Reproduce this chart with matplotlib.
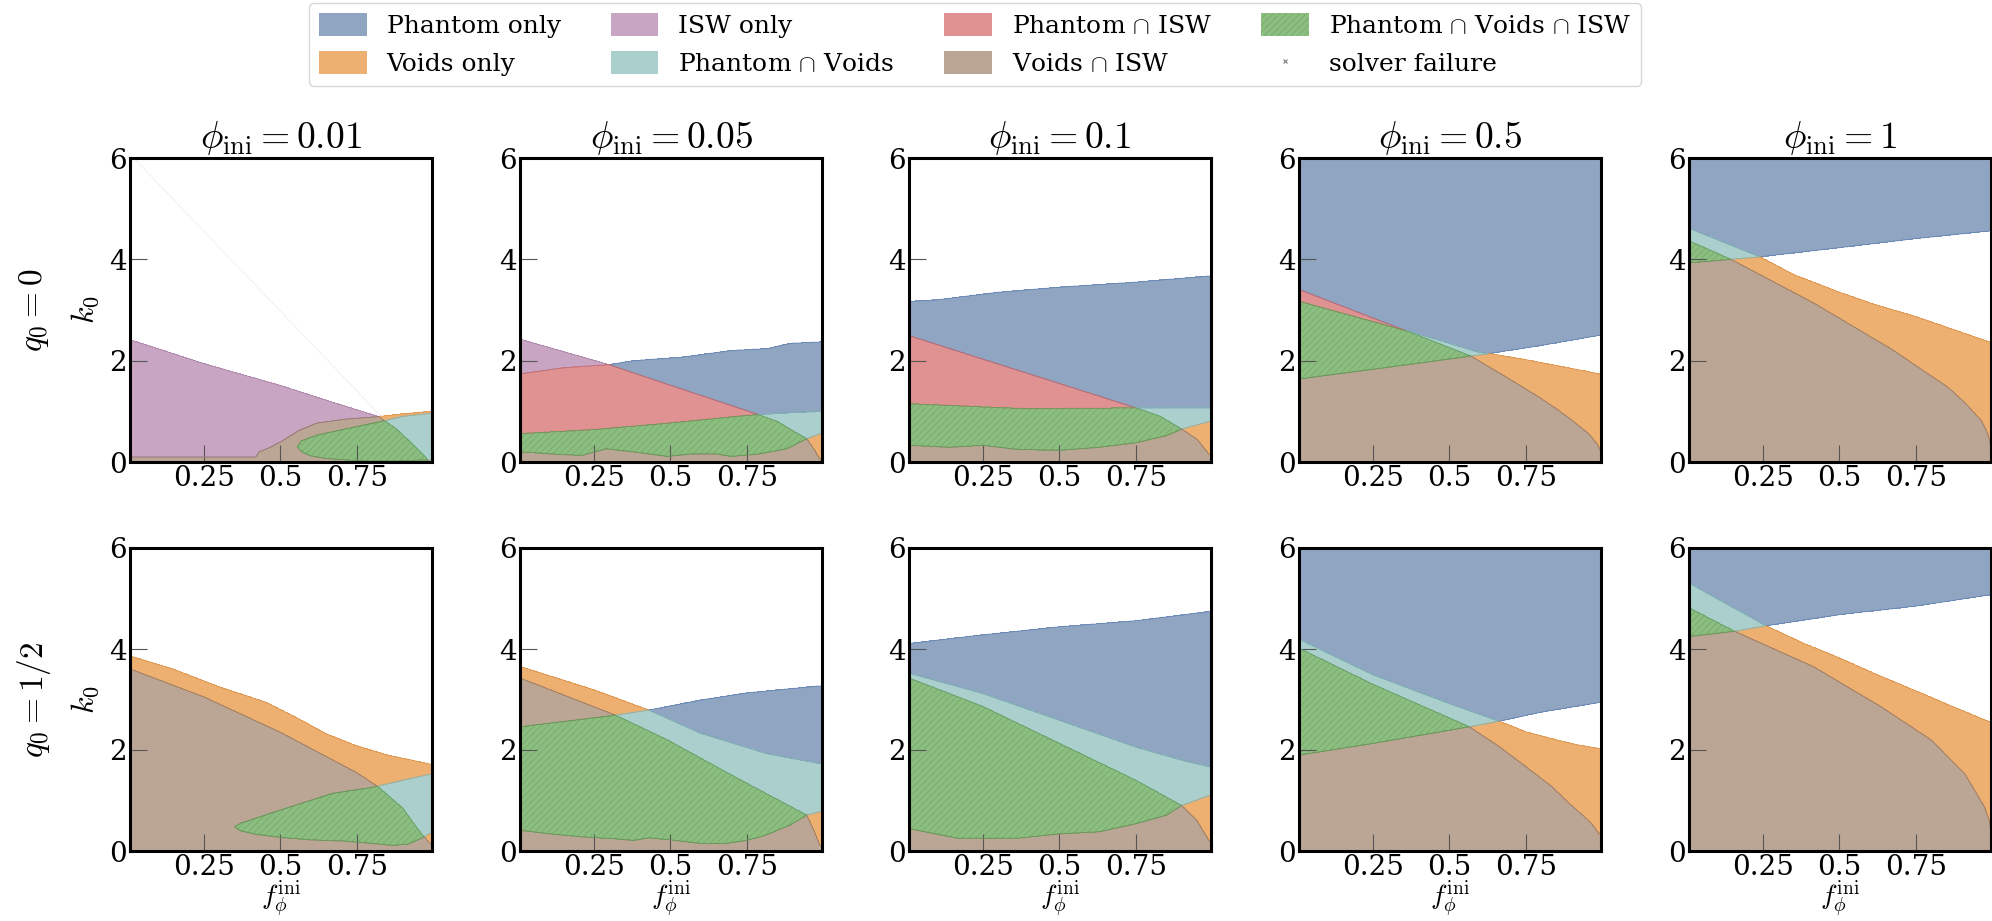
import numpy as np
import matplotlib
matplotlib.use("Agg")
import matplotlib.pyplot as plt
from matplotlib.patches import Patch
from matplotlib.lines import Line2D

plt.rcParams["font.family"] = ["DejaVu Serif"]
plt.rcParams["mathtext.fontset"] = "cm"
plt.rcParams["hatch.color"] = "#72a867"
plt.rcParams["hatch.linewidth"] = 0.5

# ---- labels -------------------------------------------------------------
phi_ini = ["0.01", "0.05", "0.1", "0.5", "1"]
q0_labels = ["0", "1/2"]
x_ticks = [0.25, 0.5, 0.75]
x_ticklabels = ["0.25", "0.5", "0.75"]
y_ticks = [0, 2, 4, 6]

# region code = phantom*1 + voids*2 + isw*4
region_codes = [1, 2, 4, 3, 5, 6, 7]
region_names = ["Phantom only", "Voids only", "ISW only",
                r"Phantom $\cap$ Voids", r"Phantom $\cap$ ISW",
                r"Voids $\cap$ ISW", r"Phantom $\cap$ Voids $\cap$ ISW"]

# ---- region boundaries (f_phi^ini, k_0) ---------------------------------
# phantom: p_lo < k0 < p_hi ; voids: k0 < v_hi ; isw: k0 < i_hi
# q0 = 0, phi_ini = 0.01
r0c0_p_lo = [(0.01, 0.3), (0.555, 0.3), (0.57, 0.2), (0.6, 0.12), (0.65, 0.07), (0.74, 0.03), (0.85, 0.02), (0.99, 0.04)]
r0c0_p_hi = [(0.01, 0.3), (0.555, 0.3), (0.57, 0.42), (0.62, 0.53), (0.72, 0.66), (0.83, 0.8), (0.9, 0.9), (0.99, 0.96)]
r0c0_v_hi = [(0.01, 0.1), (0.42, 0.1), (0.43, 0.2), (0.46, 0.27), (0.51, 0.43), (0.56, 0.62), (0.62, 0.77), (0.72, 0.85), (0.81, 0.89), (0.9, 0.95), (0.99, 1.0)]
r0c0_i_hi = [(0.01, 2.41), (0.25, 1.94), (0.5, 1.51), (0.67, 1.18), (0.82, 0.9), (0.88, 0.65), (0.95, 0.25), (0.99, 0.0)]
r0c0_faint = [(0.02, 6.0), (0.83, 0.9)]

# q0 = 0, phi_ini = 0.05
r0c1_p_lo = [(0.01, 0.2), (0.105, 0.16), (0.21, 0.13), (0.29, 0.26), (0.38, 0.2), (0.49, 0.11), (0.57, 0.16), (0.65, 0.16), (0.7, 0.11), (0.79, 0.16), (0.88, 0.26), (0.946, 0.46), (0.99, 0.56)]
r0c1_p_hi = [(0.01, 1.74), (0.15, 1.86), (0.3, 1.92), (0.38, 2.0), (0.54, 2.07), (0.7, 2.2), (0.82, 2.24), (0.89, 2.34), (0.99, 2.37)]
r0c1_v_hi = [(0.01, 0.56), (0.25, 0.64), (0.5, 0.77), (0.75, 0.92), (0.85, 0.96), (0.99, 1.0)]
r0c1_i_hi = [(0.01, 2.42), (0.3, 1.92), (0.78, 0.95), (0.85, 0.8), (0.9, 0.62), (0.946, 0.46), (0.97, 0.25), (0.99, 0.05)]

# q0 = 0, phi_ini = 0.1
r0c2_p_lo = [(0.01, 0.33), (0.14, 0.29), (0.25, 0.33), (0.36, 0.25), (0.5, 0.23), (0.63, 0.29), (0.75, 0.38), (0.85, 0.52), (0.9, 0.65), (0.99, 0.8)]
r0c2_p_hi = [(0.01, 3.17), (0.1, 3.2), (0.3, 3.35), (0.5, 3.45), (0.75, 3.55), (0.99, 3.67)]
r0c2_v_hi = [(0.01, 1.15), (0.2, 1.1), (0.4, 1.05), (0.6, 1.06), (0.76, 1.07), (0.99, 1.07)]
r0c2_i_hi = [(0.01, 2.49), (0.76, 1.05), (0.83, 0.9), (0.9, 0.65), (0.95, 0.45), (0.99, 0.15)]

# q0 = 0, phi_ini = 0.5
r0c3_p_lo = [(0.01, 1.64), (0.3, 1.87), (0.57, 2.09), (0.63, 2.14), (0.8, 2.3), (0.99, 2.5)]
r0c3_p_hi = [(0.01, 6.5), (0.99, 6.5)]
r0c3_v_hi = [(0.01, 3.17), (0.43, 2.47), (0.6, 2.16), (0.63, 2.14), (0.75, 2.02), (0.87, 1.88), (0.99, 1.74)]
r0c3_i_hi = [(0.01, 3.4), (0.41, 2.47), (0.57, 2.09), (0.685, 1.68), (0.793, 1.28), (0.85, 1.05), (0.902, 0.82), (0.957, 0.55), (0.984, 0.35), (0.996, 0.2)]

# q0 = 0, phi_ini = 1
r0c4_p_lo = [(0.01, 3.93), (0.145, 4.0), (0.24, 4.05), (0.5, 4.23), (0.75, 4.41), (0.99, 4.56)]
r0c4_p_hi = [(0.01, 6.5), (0.99, 6.5)]
r0c4_v_hi = [(0.01, 4.61), (0.24, 4.05), (0.35, 3.7), (0.5, 3.35), (0.62, 3.1), (0.75, 2.87), (0.87, 2.62), (0.99, 2.37)]
r0c4_i_hi = [(0.01, 4.36), (0.145, 4.0), (0.415, 3.14), (0.667, 2.24), (0.854, 1.48), (0.909, 1.18), (0.964, 0.82), (0.986, 0.55), (0.996, 0.29)]

# q0 = 1/2, phi_ini = 0.01
r1c0_p_lo = [(0.01, 0.48), (0.35, 0.48), (0.37, 0.4), (0.42, 0.33), (0.5, 0.27), (0.6, 0.22), (0.7, 0.2), (0.8, 0.15), (0.87, 0.11), (0.92, 0.14), (0.96, 0.25), (0.99, 0.35)]
r1c0_p_hi = [(0.01, 0.48), (0.35, 0.48), (0.37, 0.55), (0.5, 0.81), (0.67, 1.14), (0.81, 1.27), (0.9, 1.4), (0.99, 1.52)]
r1c0_v_hi = [(0.01, 3.86), (0.15, 3.6), (0.3, 3.25), (0.45, 2.95), (0.55, 2.65), (0.65, 2.32), (0.75, 2.08), (0.85, 1.9), (0.99, 1.72)]
r1c0_i_hi = [(0.01, 3.6), (0.25, 3.05), (0.5, 2.35), (0.75, 1.55), (0.82, 1.27), (0.9, 0.85), (0.96, 0.35), (0.99, 0.15)]

# q0 = 1/2, phi_ini = 0.05
r1c1_p_lo = [(0.01, 0.41), (0.105, 0.34), (0.21, 0.28), (0.32, 0.24), (0.38, 0.21), (0.43, 0.26), (0.5, 0.22), (0.6, 0.15), (0.68, 0.15), (0.75, 0.21), (0.81, 0.31), (0.89, 0.51), (0.946, 0.71), (0.99, 0.78)]
r1c1_p_hi = [(0.01, 2.46), (0.2, 2.6), (0.32, 2.69), (0.43, 2.79), (0.6, 2.99), (0.75, 3.13), (0.99, 3.27)]
r1c1_v_hi = [(0.01, 3.65), (0.25, 3.19), (0.43, 2.79), (0.6, 2.33), (0.815, 1.93), (0.99, 1.73)]
r1c1_i_hi = [(0.01, 3.42), (0.32, 2.69), (0.49, 2.2), (0.71, 1.47), (0.946, 0.71), (0.97, 0.4), (0.99, 0.1)]

# q0 = 1/2, phi_ini = 0.1
r1c2_p_lo = [(0.01, 0.44), (0.17, 0.25), (0.36, 0.25), (0.5, 0.34), (0.63, 0.38), (0.75, 0.54), (0.85, 0.71), (0.9, 0.9), (0.99, 1.1)]
r1c2_p_hi = [(0.01, 4.11), (0.25, 4.28), (0.5, 4.44), (0.75, 4.56), (0.99, 4.74)]
r1c2_v_hi = [(0.01, 3.52), (0.25, 3.12), (0.5, 2.59), (0.75, 2.06), (0.9, 1.8), (0.99, 1.67)]
r1c2_i_hi = [(0.01, 3.42), (0.25, 2.86), (0.5, 2.13), (0.75, 1.4), (0.9, 0.9), (0.95, 0.6), (0.99, 0.2)]

# q0 = 1/2, phi_ini = 0.5
r1c3_p_lo = [(0.01, 1.9), (0.25, 2.13), (0.565, 2.46), (0.663, 2.57), (0.8, 2.75), (0.99, 2.94)]
r1c3_p_hi = [(0.01, 6.5), (0.99, 6.5)]
r1c3_v_hi = [(0.01, 4.19), (0.25, 3.49), (0.5, 2.92), (0.663, 2.57), (0.75, 2.36), (0.85, 2.2), (0.92, 2.1), (0.99, 2.03)]
r1c3_i_hi = [(0.01, 4.01), (0.25, 3.3), (0.565, 2.46), (0.66, 2.08), (0.75, 1.67), (0.83, 1.3), (0.9, 0.9), (0.96, 0.58), (0.99, 0.34)]

# q0 = 1/2, phi_ini = 1
r1c4_p_lo = [(0.01, 4.25), (0.157, 4.35), (0.26, 4.46), (0.5, 4.68), (0.75, 4.85), (0.99, 5.07)]
r1c4_p_hi = [(0.01, 6.5), (0.99, 6.5)]
r1c4_v_hi = [(0.01, 5.3), (0.26, 4.46), (0.38, 4.12), (0.5, 3.82), (0.62, 3.5), (0.75, 3.17), (0.87, 2.86), (0.99, 2.56)]
r1c4_i_hi = [(0.01, 4.81), (0.157, 4.35), (0.415, 3.65), (0.635, 2.86), (0.8, 2.2), (0.91, 1.53), (0.975, 0.87), (0.99, 0.6), (0.996, 0.34)]

panels = [
    [(r0c0_p_lo, r0c0_p_hi, r0c0_v_hi, r0c0_i_hi),
     (r0c1_p_lo, r0c1_p_hi, r0c1_v_hi, r0c1_i_hi),
     (r0c2_p_lo, r0c2_p_hi, r0c2_v_hi, r0c2_i_hi),
     (r0c3_p_lo, r0c3_p_hi, r0c3_v_hi, r0c3_i_hi),
     (r0c4_p_lo, r0c4_p_hi, r0c4_v_hi, r0c4_i_hi)],
    [(r1c0_p_lo, r1c0_p_hi, r1c0_v_hi, r1c0_i_hi),
     (r1c1_p_lo, r1c1_p_hi, r1c1_v_hi, r1c1_i_hi),
     (r1c2_p_lo, r1c2_p_hi, r1c2_v_hi, r1c2_i_hi),
     (r1c3_p_lo, r1c3_p_hi, r1c3_v_hi, r1c3_i_hi),
     (r1c4_p_lo, r1c4_p_hi, r1c4_v_hi, r1c4_i_hi)],
]

# ---- style ----------------------------------------------------------------
fill = {1: "#8fa5c2", 2: "#edb070", 4: "#c8a6c3", 3: "#aacfcc",
        5: "#e09191", 6: "#bba595", 7: "#8dbe81"}
edge = {1: "#5b7db0", 2: "#d9904a", 4: "#a87fa5", 3: "#86b8b5",
        5: "#c86a6a", 6: "#937a68", 7: "#5f9e55"}
hatch = {1: None, 2: None, 4: None, 3: None, 5: None, 6: None, 7: "/////"}

XMIN, XMAX = 0.008, 0.996
W, H = 1992, 921
lefts_px = [130, 520, 909, 1299, 1689]
width_px = 302
rows_px = [(158, 462), (548, 851)]


def curve(xs, pts):
    px, py = zip(*pts)
    return np.interp(xs, px, py)[None, :]


def draw_panel(ax, p_lo, p_hi, v_hi, i_hi):
    xs = np.linspace(XMIN, XMAX, 700)
    ys = np.linspace(0, 6, 700)
    X, Y = np.meshgrid(xs, ys)
    P = (Y > curve(xs, p_lo)) & (Y < curve(xs, p_hi))
    V = Y < curve(xs, v_hi)
    I = Y < curve(xs, i_hi)
    code = P * 1 + V * 2 + I * 4
    for k in region_codes:
        mask = (code == k).astype(float)
        if not mask.any():
            continue
        ax.contourf(X, Y, mask, levels=[0.5, 1.5], colors=[fill[k]],
                    hatches=[hatch[k]], zorder=1)
        ax.contour(X, Y, mask, levels=[0.5], colors=[edge[k]],
                   linewidths=0.5, zorder=2)


fig = plt.figure(figsize=(W / 100, H / 100), dpi=100)

for r in range(2):
    top, bot = rows_px[r]
    for c in range(5):
        ax = fig.add_axes([lefts_px[c] / W, 1 - bot / H, width_px / W, (bot - top) / H])
        draw_panel(ax, *panels[r][c])
        if r == 0 and c == 0:
            fx, fy = zip(*r0c0_faint)
            ax.plot(fx, fy, color="#f3f3f3", lw=0.8, zorder=1.5)
        ax.set_xlim(XMIN, XMAX)
        ax.set_ylim(0, 6)
        ax.set_xticks(x_ticks)
        ax.set_xticklabels(x_ticklabels)
        ax.set_yticks(y_ticks)
        ax.tick_params(direction="in", length=12, width=0.8, color="#555555",
                       labelsize=20)
        ax.tick_params(axis="y", pad=2)
        ax.tick_params(axis="x", pad=2)
        for s in ax.spines.values():
            s.set_linewidth(2.2)
            s.set_zorder(5)
        if r == 0:
            ax.set_title(rf"$\phi_{{\rm ini}} = {phi_ini[c]}$", fontsize=27, pad=7)
        if r == 1:
            ax.set_xlabel(r"$f_\phi^{\rm ini}$", fontsize=20)
            ax.xaxis.label.set_va("bottom")
            ax.xaxis.set_label_coords(0.5, -0.224)
        if c == 0:
            ax.set_ylabel(r"$k_0$", fontsize=23)
            ax.yaxis.set_label_coords(-0.095, 0.5)
            fig.text(34 / W, 1 - (top + bot) / 2 / H, rf"$q_0 = {q0_labels[r]}$",
                     rotation=90, ha="center", va="center", fontsize=24)

handles = [Patch(facecolor=fill[k], hatch=hatch[k], linewidth=0) for k in region_codes]
handles.append(Line2D([], [], marker="x", ls="", color="#777777", markersize=3,
                      markeredgewidth=0.8))
labels = region_names + ["solver failure"]
fig.legend(handles, labels, loc="upper left", bbox_to_anchor=(309 / W, 1 - 3 / H),
           ncol=4, fontsize=18, handleheight=1.05, handlelength=1.9,
           borderaxespad=0, frameon=True)

fig.savefig("out.png", dpi=100)
